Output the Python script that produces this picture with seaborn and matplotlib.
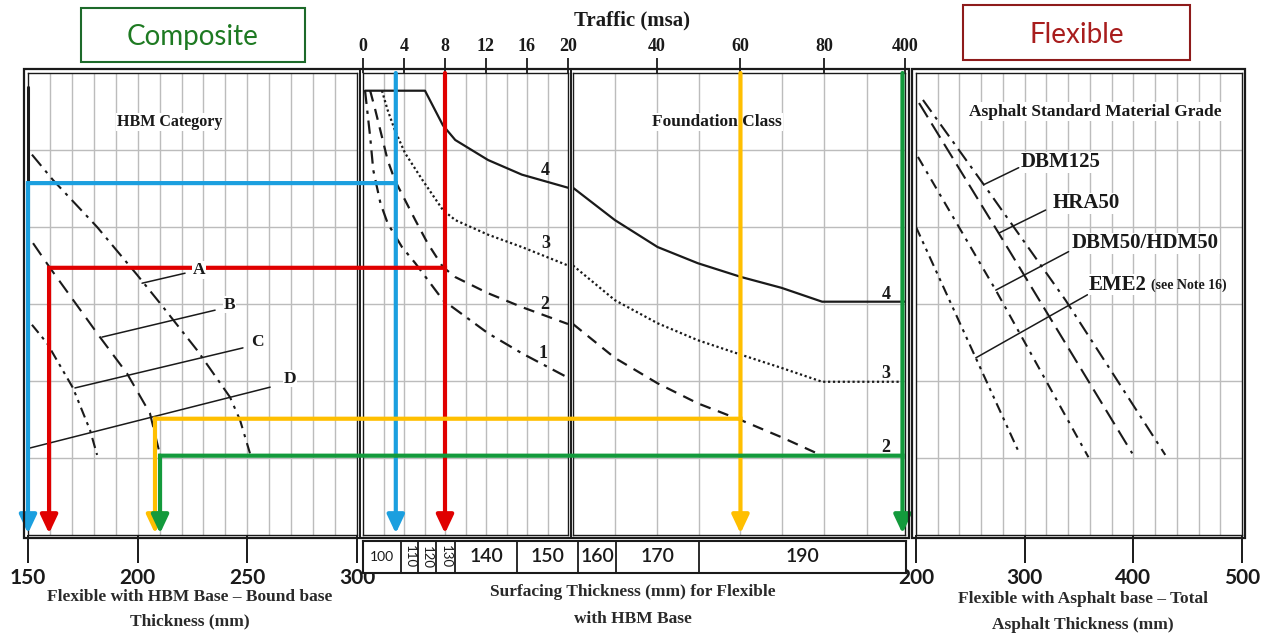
import numpy as np
import matplotlib
matplotlib.use("Agg")
import matplotlib.pyplot as plt
from matplotlib.patches import Rectangle, ConnectionPatch
from matplotlib.lines import Line2D
import seaborn as sns

# ---------------- data ----------------
# Left panel: HBM category lines, bound base thickness (mm) vs chart level
hbm_A_thk = [151.8, 161.4, 181.5, 199.7, 210.2, 227.1, 242.1, 246.7, 251.2]
hbm_A_lvl = [4.94, 4.61, 4.00, 3.38, 3.01, 2.40, 1.79, 1.49, 1.06]
hbm_B_thk = [152.3, 160.0, 182.8, 195.1, 205.6, 210.2]
hbm_B_lvl = [3.79, 3.47, 2.57, 2.10, 1.58, 1.04]
hbm_C_thk = [151.8, 158.7, 170.5, 178.3, 181.5]
hbm_C_lvl = [2.73, 2.49, 1.91, 1.36, 1.04]
hbm_D_thk = [150.0, 150.0]
hbm_D_lvl = [5.82, 1.04]

# Middle panels: foundation class curves, traffic (msa) vs chart level
fc4_traffic = [0.2, 6.05, 7.8, 9.0, 12.2, 15.5, 20.0, 30.0, 40.2, 49.8, 60.2, 69.8, 79.5, 400.0]
fc4_level = [5.77, 5.77, 5.32, 5.13, 4.87, 4.68, 4.51, 4.09, 3.74, 3.53, 3.35, 3.21, 3.03, 3.03]
fc3_traffic = [1.85, 2.4, 3.1, 4.1, 5.8, 7.8, 9.0, 12.2, 15.5, 20.0, 30.0, 40.2, 49.8, 60.2, 69.8, 79.5, 400.0]
fc3_level = [5.77, 5.52, 5.26, 4.96, 4.61, 4.22, 4.09, 3.90, 3.74, 3.50, 3.05, 2.75, 2.53, 2.34, 2.17, 1.99, 1.99]
fc2_traffic = [0.7, 1.2, 1.85, 2.4, 3.1, 4.1, 5.1, 6.3, 7.8, 9.0, 12.2, 15.5, 20.0, 30.0, 40.2, 49.8, 60.2, 69.8, 78.3]
fc2_level = [5.77, 5.52, 5.17, 4.87, 4.61, 4.35, 4.09, 3.79, 3.48, 3.35, 3.14, 2.96, 2.74, 2.30, 1.97, 1.71, 1.49, 1.27, 1.06]
fc1_traffic = [0.2, 0.7, 1.0, 1.7, 2.4, 3.8, 5.1, 7.8, 12.2, 15.5, 19.9]
fc1_level = [5.77, 5.17, 4.74, 4.31, 4.05, 3.74, 3.53, 3.05, 2.62, 2.36, 2.05]

# Surfacing thickness table (mm) by traffic band
surf_bounds = [0, 3.7, 5.3, 7.1, 8.9, 14.9, 22.0, 31.0, 50.7, 400]
surf_values = ["100", "110", "120", "130", "140", "150", "160", "170", "190"]

# Right panel: asphalt grades, total asphalt thickness (mm) vs chart level
dbm125_thk = [206.4, 262.4, 337.6, 429.4]
dbm125_lvl = [5.65, 4.55, 3.05, 1.04]
hra50_thk = [202.8, 276.1, 399.0]
hra50_lvl = [5.61, 3.92, 1.06]
dbm50_thk = [201.8, 273.4, 358.7]
dbm50_lvl = [4.91, 3.18, 1.01]
eme2_thk = [200.0, 255.0, 294.5]
eme2_lvl = [4.00, 2.30, 1.08]

# Worked examples (guide routes)
route_traffic = [3.2, 8.0, 60.0, 390.0]
route_level = [4.57, 3.47, 1.51, 1.03]
route_thk = [150.0, 159.6, 207.9, 210.2]
route_colors = ["#1b9fdf", "#e00000", "#ffbf00", "#139a3c"]

top_ticks_1 = [0, 4, 8, 12, 16, 20]
top_ticks_2 = [40, 60, 80, 400]
left_ticks = [150, 200, 250, 300]
right_ticks = [200, 300, 400, 500]

# ---------------- style ----------------
sns.set_style("white")
SERIF = ["Liberation Serif", "DejaVu Serif"]
SANS = ["Lato", "DejaVu Sans"]
plt.rcParams["font.family"] = SERIF
INK = "#1a1a1a"
GRID = "#bcbcbc"

W, H = 1263, 636
fig = plt.figure(figsize=(W / 100, H / 100), dpi=100)


def rect(x0, y0, x1, y1):
    return [x0 / W, 1 - y1 / H, (x1 - x0) / W, (y1 - y0) / H]


def outer_frame(x0, y0, x1, y1):
    fig.add_artist(Rectangle((x0 / W, 1 - y1 / H), (x1 - x0) / W, (y1 - y0) / H,
                             transform=fig.transFigure, fill=False, lw=1.6,
                             ec=INK, zorder=1))


def separator(x, y0, y1):
    fig.add_artist(Line2D([x / W, x / W], [1 - y0 / H, 1 - y1 / H],
                          transform=fig.transFigure, lw=1.4, color=INK, zorder=1))


def curve(ax, x, y, dashes=None, lw=1.5):
    if len(x) < 2:
        return
    ls = "-" if dashes is None else (0, dashes)
    sns.lineplot(x=x, y=y, ax=ax, color=INK, lw=lw, sort=False,
                 estimator=None, linestyle=ls, zorder=3)


def base_axes(r):
    ax = fig.add_axes(r)
    ax.set_ylim(0, 6)
    ax.set_yticks([])
    for s in ax.spines.values():
        s.set_visible(True)
        s.set_linewidth(1.0)
        s.set_color(INK)
    for lv in range(1, 6):
        ax.axhline(lv, color=GRID, lw=1.0, zorder=0)
    return ax


def m2_fwd(t):
    return np.interp(t, [20, 80, 400], [20, 80, 99.3])


def m2_inv(p):
    return np.interp(p, [20, 80, 99.3], [20, 80, 400])


# ---------------- axes ----------------
axL = base_axes(rect(28, 73, 357, 535))
axM1 = base_axes(rect(363, 73, 568, 535))
axM2 = base_axes(rect(573, 73, 905, 535))
axM2.set_xscale("function", functions=(m2_fwd, m2_inv))
axR = base_axes(rect(916, 73, 1242, 535))

outer_frame(24, 69, 909, 538)
separator(360, 69, 538)
separator(570.5, 69, 538)
outer_frame(912, 69, 1245, 538)

for v in range(160, 300, 10):
    axL.axvline(v, color=GRID, lw=1.0, zorder=0)
for v in range(2, 20, 2):
    axM1.axvline(v, color=GRID, lw=1.0, zorder=0)
for v in [30, 40, 50, 60, 70, 80, 250]:
    axM2.axvline(v, color=GRID, lw=1.0, zorder=0)
for v in range(220, 500, 20):
    axR.axvline(v, color=GRID, lw=1.0, zorder=0)

# ---------------- curves ----------------
curve(axL, hbm_A_thk, hbm_A_lvl, (7, 3, 1.5, 3))
curve(axL, hbm_B_thk, hbm_B_lvl, (7, 4))
curve(axL, hbm_C_thk, hbm_C_lvl, (5, 2.5, 1.5, 2.5, 1.5, 2.5))
sns.lineplot(x=hbm_D_thk, y=hbm_D_lvl, ax=axL, color=INK, lw=2.2, sort=False,
             estimator=None, zorder=3, clip_on=False)

for tr, lv, dsh in [(fc4_traffic, fc4_level, None), (fc3_traffic, fc3_level, (1, 1.2)),
                    (fc2_traffic, fc2_level, (5, 3.5)), (fc1_traffic, fc1_level, (6, 3, 1.5, 3))]:
    tr = np.asarray(tr)
    lv = np.asarray(lv)
    lo = tr <= 20
    hi = tr >= 20
    curve(axM1, list(tr[lo]), list(lv[lo]), dsh, lw=1.6)
    curve(axM2, list(tr[hi]), list(lv[hi]), dsh, lw=1.6)

curve(axR, dbm125_thk, dbm125_lvl, (7, 3, 1.5, 3))
curve(axR, hra50_thk, hra50_lvl, (8, 3.5))
curve(axR, dbm50_thk, dbm50_lvl, (5, 3, 1.5, 3))
curve(axR, eme2_thk, eme2_lvl, (5, 2.5, 1.5, 2.5, 1.5, 2.5))

axL.set_xlim(150, 300)
axM1.set_xlim(0, 20)
axM2.set_xlim(20, 400)
axR.set_xlim(200, 500)
for ax in (axL, axM1, axM2, axR):
    ax.set_ylim(0, 6)
    ax.set_xlabel("")
    ax.set_ylabel("")
    ax.set_yticks([])

# ticks
for ax, ticks in [(axM1, top_ticks_1), (axM2, top_ticks_2)]:
    ax.xaxis.tick_top()
    ax.set_xticks(ticks)
    ax.set_xticklabels([str(t) for t in ticks])
    ax.minorticks_off()
    ax.tick_params(axis="x", which="both", top=True, bottom=False, length=11,
                   width=1.3, color=INK, pad=2, labelsize=13, labelcolor=INK)
    for lab in ax.get_xticklabels():
        lab.set_fontweight("bold")
        lab.set_family(SERIF)

for ax, ticks in [(axL, left_ticks), (axR, right_ticks)]:
    ax.set_xticks(ticks)
    ax.set_xticklabels([str(t) for t in ticks])
    ax.tick_params(axis="x", bottom=True, length=20, width=1.4, color=INK,
                   pad=4, labelsize=15, labelcolor=INK)
    for lab in ax.get_xticklabels():
        lab.set_fontweight("bold")
        lab.set_family(SANS)

# ---------------- panel labels ----------------
wb = dict(facecolor="white", edgecolor="none", pad=1.0)
axL.text(0.432, 0.894, "HBM Category", transform=axL.transAxes, ha="center",
         va="center", fontsize=11.5, fontweight="bold", color=INK, bbox=wb, zorder=4)
axM2.text(0.434, 0.894, "Foundation Class", transform=axM2.transAxes, ha="center",
          va="center", fontsize=12.5, fontweight="bold", color=INK, bbox=wb, zorder=4)
axR.text(0.549, 0.916, "Asphalt Standard Material Grade", transform=axR.transAxes,
         ha="center", va="center", fontsize=12.5, fontweight="bold", color=INK,
         bbox=wb, zorder=4)

for t, lv, s in [(17.8, 4.74, "4"), (17.8, 3.79, "3"), (17.7, 2.99, "2"), (17.6, 2.36, "1")]:
    axM1.text(t, lv, s, ha="center", va="center", fontsize=13, fontweight="bold", color=INK)
for t, lv, s in [(324, 3.12, "4"), (324, 2.10, "3"), (324, 1.14, "2")]:
    axM2.text(t, lv, s, ha="center", va="center", fontsize=13, fontweight="bold", color=INK)

# HBM category leaders
for (x0, y0, x1, y1, lx, ly, s) in [
        (221.6, 3.40, 202.0, 3.27, 228.0, 3.44, "A"),
        (235.3, 2.92, 183.7, 2.57, 241.7, 2.99, "B"),
        (248.0, 2.43, 171.4, 1.91, 254.4, 2.51, "C"),
        (260.4, 1.92, 150.9, 1.13, 269.5, 2.03, "D")]:
    axL.plot([x0, x1], [y0, y1], color=INK, lw=1.1, zorder=3)
    fig.text(lx, ly, s, transform=axL.transData, ha="center", va="center",
             fontsize=12.5, fontweight="bold", color=INK, zorder=8,
             bbox=dict(facecolor="white", edgecolor="none", pad=0.5))

# Asphalt grade leaders
for (x0, y0, x1, y1) in [(294.5, 4.77, 262.4, 4.55), (319.3, 4.22, 276.1, 3.92),
                         (340.4, 3.68, 273.4, 3.18), (357.8, 3.12, 255.0, 2.30)]:
    axR.plot([x0, x1], [y0, y1], color=INK, lw=1.1, zorder=3)
for (lx, ly, s) in [(296.0, 4.84, "DBM125"), (326.0, 4.31, "HRA50"),
                    (343.5, 3.79, "DBM50/HDM50"), (359.0, 3.25, "EME2")]:
    axR.text(lx, ly, s, ha="left", va="center", fontsize=15, fontweight="bold",
             color=INK, bbox=dict(facecolor="white", edgecolor="none", pad=0.5), zorder=4)
axR.text(416.0, 3.24, "(see Note 16)", ha="left", va="center", fontsize=10,
         fontweight="bold", color=INK, zorder=4)

# ---------------- surfacing thickness table ----------------
def tab_fwd(t):
    return np.interp(t, [0, 20, 80, 400], [0, 207, 459, 543])


def tab_inv(p):
    return np.interp(p, [0, 207, 459, 543], [0, 20, 80, 400])


tax = fig.add_axes(rect(363, 541, 906, 573))
tax.set_xscale("function", functions=(tab_fwd, tab_inv))
tax.set_xlim(0, 400)
tax.set_ylim(0, 1)
tax.set_xticks([])
tax.set_yticks([])
tax.minorticks_off()
for s in tax.spines.values():
    s.set_visible(True)
    s.set_linewidth(1.5)
    s.set_color(INK)
for b in surf_bounds[1:-1]:
    tax.axvline(b, color=INK, lw=1.3)
for i, s in enumerate(surf_values):
    c = tab_inv((tab_fwd(surf_bounds[i]) + tab_fwd(surf_bounds[i + 1])) / 2)
    if s in ("110", "120", "130"):
        tax.text(c, 0.5, s, rotation=270, ha="center", va="center", fontsize=9.5,
                 family=SANS, color=INK)
    elif s == "100":
        tax.text(c, 0.5, s, ha="center", va="center", fontsize=10, family=SANS, color=INK)
    else:
        tax.text(c, 0.5, s, ha="center", va="center", fontsize=14, family=SANS,
                 fontweight="semibold", color=INK)

# ---------------- guide routes ----------------
arrow_style = "-|>,head_length=0.85,head_width=0.4"
for t, lv, thk, c in zip(route_traffic, route_level, route_thk, route_colors):
    axT = axM1 if t <= 20 else axM2
    axT.annotate("", xy=(t, 0.02), xytext=(t, 6.0), annotation_clip=False,
                 arrowprops=dict(arrowstyle=arrow_style, color=c, lw=3.0,
                                 shrinkA=0, shrinkB=0, mutation_scale=13), zorder=10)
    con = ConnectionPatch(xyA=(t, lv), coordsA=axT.transData, xyB=(thk, lv),
                          coordsB=axL.transData, color=c, lw=3.0, zorder=6)
    con.set_capstyle("projecting")
    fig.add_artist(con)
    axL.annotate("", xy=(thk, 0.02), xytext=(thk, lv), annotation_clip=False,
                 arrowprops=dict(arrowstyle=arrow_style, color=c, lw=3.0,
                                 shrinkA=0, shrinkB=0, mutation_scale=13), zorder=10)

# ---------------- titles ----------------
fig.add_artist(Rectangle((81 / W, 1 - 62 / H), 224 / W, 54 / H, transform=fig.transFigure,
                         fill=False, lw=1.5, ec="#1d6a2a"))
fig.text(193 / W, 1 - 37 / H, "Composite", ha="center", va="center", fontsize=20,
         family=SANS, color="#1e7a22")
fig.add_artist(Rectangle((963 / W, 1 - 60 / H), 227 / W, 55 / H, transform=fig.transFigure,
                         fill=False, lw=1.5, ec="#8e1b1b"))
fig.text(1077 / W, 1 - 35 / H, "Flexible", ha="center", va="center", fontsize=20,
         family=SANS, color="#a81d1d")

fig.text(632 / W, 1 - 20 / H, "Traffic (msa)", ha="center", va="center", fontsize=15,
         fontweight="bold", color=INK)
for (x, y, s) in [(190, 597, "Flexible with HBM Base \u2013 Bound base"),
                  (190, 621, "Thickness (mm)"),
                  (633, 592, "Surfacing Thickness (mm) for Flexible"),
                  (633, 619, "with HBM Base"),
                  (1083, 599, "Flexible with Asphalt base \u2013 Total"),
                  (1083, 625, "Asphalt Thickness (mm)")]:
    fig.text(x / W, 1 - y / H, s, ha="center", va="center", fontsize=12.5,
             fontweight="bold", color="#2a2a2a")

fig.savefig("out.png", dpi=100, facecolor="white")
